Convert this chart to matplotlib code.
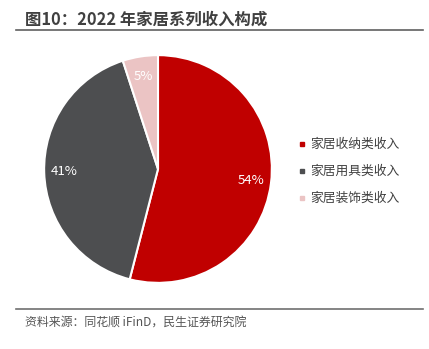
import matplotlib
matplotlib.use("Agg")
import matplotlib.pyplot as plt
from matplotlib.lines import Line2D

plt.rcParams['font.family'] = ['Noto Sans CJK SC', 'DejaVu Sans']

# -------------------------
# Data
# -------------------------
categories = ["家居收纳类收入", "家居用具类收入", "家居装饰类收入"]
shares = [54, 41, 5]
colors = ["#C00000", "#4D4E50", "#EBC4C4"]

title = "图10：2022 年家居系列收入构成"
source = "资料来源：同花顺 iFinD，民生证券研究院"

# -------------------------
# Figure
# -------------------------
W, H = 429, 349
fig = plt.figure(figsize=(W / 100, H / 100), dpi=100)

# pie axes: center ~ (158, 169), radius ~ 115 px
r = 115
cx, cy = 158, 169
ax = fig.add_axes([(cx - r) / W, 1 - (cy + r) / H, 2 * r / W, 2 * r / H])
wedges, texts, autotexts = ax.pie(
    shares, colors=colors, startangle=90, counterclock=False,
    autopct="%d%%", pctdistance=0.82,
    wedgeprops=dict(edgecolor="white", linewidth=1.5),
    textprops=dict(color="white", fontsize=9.5),
)
ax.set_xlim(-1.01, 1.01)
ax.set_ylim(-1.01, 1.01)
ax.set_aspect("equal")

# title and rule
fig.text(25 / W, 1 - 20 / H, title, fontsize=11.8, fontweight="bold",
         color="#404040", va="center", ha="left")
fig.add_artist(Line2D([16 / W, 423 / W], [1 - 30 / H, 1 - 30 / H],
                      color="#606060", linewidth=1.2))

# legend
for i, (lab, c) in enumerate(zip(categories, colors)):
    y = 1 - (144 + 27 * i) / H
    fig.add_artist(Line2D([302 / W], [y], marker="s", markersize=3.5,
                          color=c, linestyle="none"))
    fig.text(310 / W, y, lab, fontsize=9.2, color="#404040",
             va="center", ha="left")

# source rule and text
fig.add_artist(Line2D([16 / W, 423 / W], [1 - 309 / H, 1 - 309 / H],
                      color="#707070", linewidth=1.2))
fig.text(25 / W, 1 - 322 / H, source, fontsize=8.6, color="#555555",
         va="center", ha="left")

fig.savefig("out.png", dpi=100)
